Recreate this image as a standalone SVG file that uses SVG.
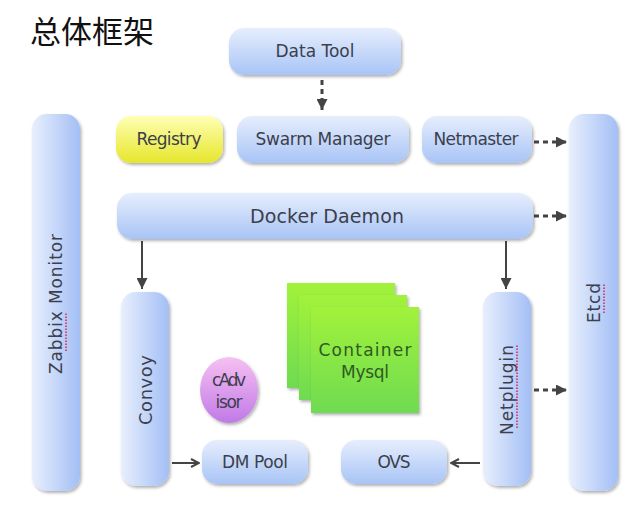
<svg xmlns="http://www.w3.org/2000/svg" width="640" height="505" viewBox="0 0 640 505">
<defs>
<linearGradient id="gH" x1="0" y1="0" x2="0" y2="1"><stop offset="0" stop-color="#e6eefd"/><stop offset="1" stop-color="#a8c4f6"/></linearGradient>
<linearGradient id="gV" x1="0" y1="0" x2="1" y2="0"><stop offset="0" stop-color="#e8effd"/><stop offset="1" stop-color="#a3bff5"/></linearGradient>
<linearGradient id="gY" x1="0" y1="0" x2="0" y2="1"><stop offset="0" stop-color="#ffffb4"/><stop offset="1" stop-color="#e6e62c"/></linearGradient>
<linearGradient id="gG" x1="0" y1="0" x2="0" y2="1"><stop offset="0" stop-color="#a2f23a"/><stop offset="1" stop-color="#6edb52"/></linearGradient>
<linearGradient id="gP" x1="0" y1="0" x2="0" y2="1"><stop offset="0" stop-color="#f6c0f2"/><stop offset="1" stop-color="#c07ae6"/></linearGradient>
<filter id="sh" x="-20%" y="-20%" width="140%" height="140%"><feDropShadow dx="1.5" dy="2" stdDeviation="1.8" flood-color="#000" flood-opacity="0.3"/></filter>
<marker id="tri" viewBox="0 0 10 10" refX="10" refY="5" markerWidth="11" markerHeight="11" markerUnits="userSpaceOnUse" orient="auto"><path d="M0,0 L10,5 L0,10 z" fill="#444"/></marker>
<marker id="chev" viewBox="0 0 10 10" refX="9" refY="5" markerWidth="10" markerHeight="10" markerUnits="userSpaceOnUse" orient="auto"><path d="M1,1 L9,5 L1,9" fill="none" stroke="#444" stroke-width="2"/></marker>
</defs>
<style>
.bh{fill:url(#gH);filter:url(#sh)}
.bv{fill:url(#gV);filter:url(#sh)}
.t{font-family:"DejaVu Sans","Liberation Sans",sans-serif;font-size:17px;fill:#3c3f4c;text-anchor:middle;dominant-baseline:central}
.tg{fill:#2f5a22}
.dash{stroke:#444;stroke-width:3;stroke-dasharray:5 4;fill:none;marker-end:url(#tri)}
.sol{stroke:#444;stroke-width:2;fill:none;marker-end:url(#tri)}
.solh{stroke:#444;stroke-width:2;fill:none;marker-end:url(#chev)}
.sp{stroke:#e0204a;stroke-width:1.5;stroke-dasharray:1.5 1.5}
</style>
<rect width="640" height="505" fill="#ffffff"/>
<text x="30" y="43" style="font-family:'Noto Sans CJK SC',sans-serif;font-size:31px;fill:#111">总体框架</text>

<g id="connectors">
<line class="dash" x1="322" y1="80" x2="322" y2="110"/>
<line class="dash" x1="534" y1="142" x2="567" y2="142"/>
<line class="dash" x1="534" y1="216" x2="567" y2="216"/>
<line class="dash" x1="534" y1="390" x2="567" y2="390"/>
<line class="sol" x1="142" y1="241" x2="142" y2="289"/>
<line class="sol" x1="506" y1="241" x2="506" y2="289"/>
<line class="solh" x1="172" y1="463" x2="199" y2="463"/>
<line class="solh" x1="480" y1="463" x2="451" y2="463"/>
</g>

<g id="datatool"><rect class="bh" x="229" y="28" width="172" height="47" rx="15"/><text class="t" x="315" y="51" textLength="79">Data Tool</text></g>
<g id="zabbix"><rect class="bv" x="32" y="114" width="48" height="377" rx="15"/><text class="t" x="56" y="304" transform="rotate(-90 56 304)" textLength="140">Zabbix Monitor</text><line class="sp" x1="66" y1="351" x2="66" y2="312"/></g>
<g id="registry"><rect x="116" y="116" width="107" height="47" rx="15" fill="url(#gY)" filter="url(#sh)"/><text class="t" x="169" y="139" textLength="65">Registry</text></g>
<g id="swarm"><rect class="bh" x="237" y="116" width="172" height="47" rx="15"/><text class="t" x="323" y="139" textLength="135">Swarm Manager</text></g>
<g id="netmaster"><rect class="bh" x="422" y="116" width="110" height="47" rx="15"/><text class="t" x="476" y="139" textLength="85">Netmaster</text></g>
<g id="etcd"><rect class="bv" x="569" y="114" width="49" height="377" rx="15"/><text class="t" x="594" y="303" transform="rotate(-90 594 303)" textLength="40">Etcd</text><line class="sp" x1="604" y1="313" x2="604" y2="284"/></g>
<g id="docker"><rect class="bh" x="117" y="193" width="416" height="46" rx="15"/><text class="t" x="327" y="216" style="font-size:19px" textLength="154">Docker Daemon</text></g>
<g id="convoy"><rect class="bv" x="121" y="292" width="48" height="194" rx="15"/><text class="t" x="145" y="390" transform="rotate(-90 145 390)" style="font-size:18px" textLength="70">Convoy</text></g>
<g id="netplugin"><rect class="bv" x="483" y="292" width="48" height="194" rx="15"/><text class="t" x="507" y="390" transform="rotate(-90 507 390)" textLength="90">Netplugin</text><line class="sp" x1="517" y1="428" x2="517" y2="345"/></g>
<g id="cadvisor"><ellipse cx="229" cy="390" rx="29" ry="33" fill="url(#gP)" filter="url(#sh)"/><text class="t" x="229" y="380" textLength="34">cAdv</text><text class="t" x="229" y="402" textLength="27">isor</text></g>
<g id="container">
<rect x="287" y="283" width="108" height="105" fill="url(#gG)" filter="url(#sh)"/>
<rect x="299" y="295" width="108" height="105" fill="url(#gG)" filter="url(#sh)"/>
<rect x="311" y="307" width="108" height="106" fill="url(#gG)" filter="url(#sh)"/>
<text class="t tg" x="365" y="350" textLength="93">Container</text><text class="t tg" x="365" y="372" textLength="48">Mysql</text>
</g>
<g id="dmpool"><rect class="bh" x="202" y="440" width="106" height="44" rx="15"/><text class="t" x="255" y="462" textLength="66">DM Pool</text></g>
<g id="ovs"><rect class="bh" x="341" y="440" width="106" height="44" rx="15"/><text class="t" x="394" y="462" textLength="33">OVS</text></g>
</svg>
